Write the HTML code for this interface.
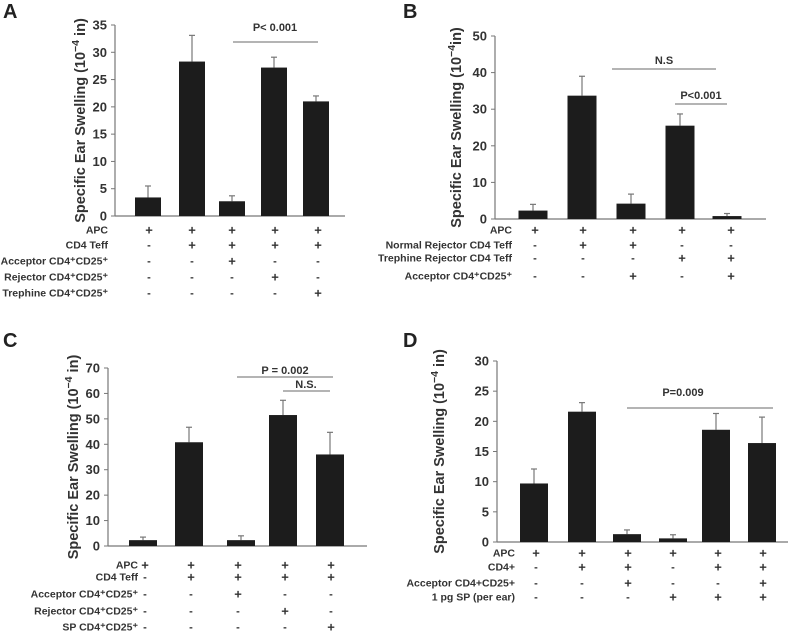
<!DOCTYPE html>
<html><head><meta charset="utf-8"><style>
html,body{margin:0;padding:0;background:#fff;}
svg{display:block;font-family:"Liberation Sans",Arial,sans-serif;}
</style></head><body>
<svg id="fig" width="800" height="633" viewBox="0 0 800 633" xmlns="http://www.w3.org/2000/svg"></svg>
<script>
// Panel A data
const aTicks=[0,5,10,15,20,25,30,35];
const aValues=[3.4,28.3,2.7,27.2,21.0];
const aErrors=[5.5,33.1,3.7,29.1,22.0];
const aRows=["APC","CD4 Teff","Acceptor CD4⁺CD25⁺","Rejector CD4⁺CD25⁺","Trephine CD4⁺CD25⁺"];
const aSigns=[["+","+","+","+","+"],["-","+","+","+","+"],["-","-","+","-","-"],["-","-","-","+","-"],["-","-","-","-","+"]];
// Panel B data
const bTicks=[0,10,20,30,40,50];
const bValues=[2.3,33.7,4.2,25.5,0.8];
const bErrors=[4.0,39.0,6.8,28.7,1.5];
const bRows=["APC","Normal Rejector CD4 Teff","Trephine Rejector CD4 Teff","Acceptor CD4⁺CD25⁺"];
const bSigns=[["+","+","+","+","+"],["-","+","+","-","-"],["-","-","-","+","+"],["-","-","+","-","+"]];
// Panel C data
const cTicks=[0,10,20,30,40,50,60,70];
const cValues=[2.3,40.8,2.3,51.5,36.0];
const cErrors=[3.5,46.7,4.0,57.3,44.7];
const cRows=["APC","CD4 Teff","Acceptor CD4⁺CD25⁺","Rejector CD4⁺CD25⁺","SP CD4⁺CD25⁺"];
const cSigns=[["+","+","+","+","+"],["-","+","+","+","+"],["-","-","+","-","-"],["-","-","-","+","-"],["-","-","-","-","+"]];
// Panel D data
const dTicks=[0,5,10,15,20,25,30];
const dValues=[9.7,21.6,1.3,0.6,18.6,16.4];
const dErrors=[12.1,23.1,2.0,1.2,21.3,20.7];
const dRows=["APC","CD4+","Acceptor CD4+CD25+","1 pg SP (per ear)"];
const dSigns=[["+","+","+","+","+","+"],["-","+","+","-","+","+"],["-","-","+","-","-","+"],["-","-","-","+","+","+"]];

const NS="http://www.w3.org/2000/svg";
const svg=document.getElementById('fig');
function mk(tag,attrs,parent,text){const e=document.createElementNS(NS,tag);for(const k in attrs)e.setAttribute(k,attrs[k]);if(text!==undefined)e.textContent=text;(parent||svg).appendChild(e);return e;}

function panel(p){
  const g=mk('g',{});
  
  
  const ymax=p.ticks[p.ticks.length-1];
  const y=v=>p.y0-(v/ymax)*(p.y0-p.yTop);
  const lt=mk('text',{x:p.lx,y:p.ly,'font-size':20,'font-weight':'bold',fill:'#222'},g,p.id);
  
  
  const ax=mk('line',{x1:p.ax,y1:p.yTop,x2:p.ax,y2:p.y0,stroke:'#777','stroke-width':1.2},g);
  
  
  const xl=mk('line',{x1:p.ax,y1:p.y0,x2:p.xEnd,y2:p.y0,stroke:'#777','stroke-width':1.2},g);
  
  
  p.ticks.forEach(t=>{
    mk('line',{x1:p.ax-4,y1:y(t),x2:p.ax,y2:y(t),stroke:'#777','stroke-width':1},g);
    const tl=mk('text',{x:p.ax-8,y:y(t)+4.5,'font-size':13,'font-weight':'bold','text-anchor':'end',fill:'#333'},g,t);
    
    
  });
  const yt=mk('text',{x:0,y:0,'font-size':14.5,'font-weight':'bold','text-anchor':'middle',fill:'#333',transform:`translate(${p.titleX},${(p.yTop+p.y0)/2}) rotate(-90)`},g);
  
  
  yt.appendChild(document.createTextNode('Specific Ear Swelling (10'));
  mk('tspan',{dy:-6,'font-size':10.5},yt,'−4');
  mk('tspan',{dy:6},yt,p.unit);
  p.values.forEach((v,i)=>{
    const cx=p.cx[i],w=p.bw;
    const el=mk('line',{x1:cx,y1:y(v),x2:cx,y2:y(p.errors[i]),stroke:'#777','stroke-width':1.2},g);
    
    
    mk('line',{x1:cx-3,y1:y(p.errors[i]),x2:cx+3,y2:y(p.errors[i]),stroke:'#777','stroke-width':1.2},g);
    const b=mk('rect',{x:cx-w/2,y:y(v),width:w,height:p.y0-y(v),fill:'#1c1c1c'},g);
    
    
  });
  p.rows.forEach((r,ri)=>{
    const ry=p.rowY[ri];
    const rl=mk('text',{x:p.rowX,y:ry+3.5,'font-size':10.5,'font-weight':'bold','text-anchor':'end',fill:'#333'},g,r);
    
    
    p.signs[ri].forEach((s,ci)=>{
      const st=mk('text',{x:p.sx[ci],y:ry+(s==='+'?4.5:3.5),'font-size':s==='+'?13:11,'font-weight':'bold','text-anchor':'middle',fill:'#333'},g,s);
      
      
    });
  });
  p.sig.forEach(s=>{
    const sl=mk('line',{x1:s.x1,y1:s.y,x2:s.x2,y2:s.y,stroke:'#888','stroke-width':1.3},g);
    
    
    const st=mk('text',{x:s.tx,y:s.ty,'font-size':11,'font-weight':'bold','text-anchor':'middle',fill:'#333'},g,s.t);
    
    
  });
}

panel({id:'A',lx:3,ly:18,ax:115,y0:216,yTop:25,xEnd:345,ticks:aTicks,values:aValues,errors:aErrors,unit:' in)',titleX:85,
  cx:[148,192,232,274,316],bw:26,rows:aRows,signs:aSigns,rowX:108,rowY:[230,245,261,277,293],sx:[149,192,232,275,318],
  sig:[{x1:233,x2:318,y:42,t:'P< 0.001',tx:275,ty:31}]});
panel({id:'B',lx:403,ly:18,ax:495,y0:219,yTop:36,xEnd:766,ticks:bTicks,values:bValues,errors:bErrors,unit:'in)',titleX:461,
  cx:[533,582,631,680,727],bw:29,rows:bRows,signs:bSigns,rowX:512,rowY:[230,245,258,276],sx:[535,583,633,682,731],
  sig:[{x1:612,x2:716,y:69,t:'N.S',tx:664,ty:64},{x1:675,x2:727,y:104,t:'P<0.001',tx:701,ty:99}]});
panel({id:'C',lx:3,ly:347,ax:108,y0:546,yTop:368,xEnd:367,ticks:cTicks,values:cValues,errors:cErrors,unit:' in)',titleX:78,
  cx:[143,189,241,283,330],bw:28,rows:cRows,signs:cSigns,rowX:138,rowY:[565,577,594,611,627],sx:[145,191,238,285,331],
  sig:[{x1:237,x2:333,y:377,t:'P = 0.002',tx:285,ty:374},{x1:283,x2:330,y:391,t:'N.S.',tx:306,ty:388}]});
panel({id:'D',lx:403,ly:347,ax:497,y0:542,yTop:361,xEnd:788,ticks:dTicks,values:dValues,errors:dErrors,unit:' in)',titleX:444,
  cx:[534,582,627,673,716,762],bw:28,rows:dRows,signs:dSigns,rowX:515,rowY:[553,567,583,597],sx:[536,582,628,673,718,763],
  sig:[{x1:627,x2:773,y:408,t:'P=0.009',tx:683,ty:396}]});
</script>
</body></html>
